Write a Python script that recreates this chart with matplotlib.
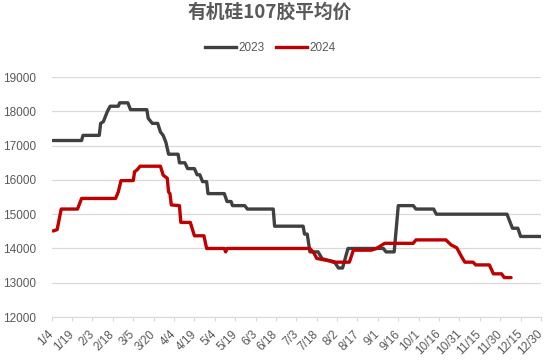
import matplotlib
matplotlib.use("Agg")
import matplotlib.pyplot as plt
from matplotlib.lines import Line2D

# ---------------------------------------------------------------------------
# Data (x = days counted from 1/4, price in yuan/ton)
# ---------------------------------------------------------------------------
days_2023 = [1, 22, 23, 35, 36, 38, 41, 43, 49, 50, 56, 58, 70, 71, 74, 78,
             80, 82, 84, 86, 93, 94, 98, 100, 105, 107, 109, 111, 114, 115,
             127, 129, 132, 133, 142, 144, 163, 164, 185, 186, 188, 190, 196,
             199, 208, 211, 214, 218, 244, 246, 252, 255, 266, 268, 281, 283,
             335, 339, 343, 345, 360]
price_2023 = [17150, 17150, 17300, 17300, 17650, 17700, 18000, 18150, 18150,
              18250, 18250, 18050, 18050, 17800, 17650, 17650, 17400, 17300,
              17100, 16750, 16750, 16500, 16500, 16330, 16330, 16150, 16150,
              15950, 15950, 15600, 15600, 15370, 15370, 15250, 15250, 15150,
              15150, 14650, 14650, 14420, 14420, 13900, 13900, 13700, 13610,
              13430, 13430, 14000, 14000, 13900, 13900, 15250, 15250, 15150,
              15150, 15000, 15000, 14590, 14590, 14350, 14350]

days_2024 = [1, 4, 7, 19, 22, 47, 49, 51, 60, 61, 63, 65, 80, 82, 85, 86,
             87, 88, 94, 95, 102, 105, 112, 114, 127, 128, 129, 190, 193,
             195, 205, 207, 219, 222, 235, 239, 245, 266, 268, 290, 294, 298,
             302, 304, 310, 312, 322, 325, 331, 333, 338]
price_2024 = [14510, 14550, 15150, 15150, 15460, 15460, 15650, 15980, 15980,
              16240, 16300, 16400, 16400, 16140, 16050, 15650, 15600, 15270,
              15250, 14760, 14760, 14370, 14370, 14000, 14000, 13900, 14000,
              14000, 13860, 13710, 13630, 13600, 13600, 13950, 13950, 14000,
              14150, 14150, 14250, 14250, 14100, 14020, 13730, 13600, 13600,
              13520, 13520, 13260, 13260, 13150, 13150]

tick_labels = ["1/4", "1/19", "2/3", "2/18", "3/5", "3/20", "4/4", "4/19",
               "5/4", "5/19", "6/3", "6/18", "7/3", "7/18", "8/2", "8/17",
               "9/1", "9/16", "10/1", "10/16", "10/31", "11/15", "11/30",
               "12/15", "12/30"]

COLOR_2023 = "#404040"
COLOR_2024 = "#C00000"
TEXT = "#595959"

plt.rcParams["font.family"] = ["Liberation Sans", "DejaVu Sans"]

fig = plt.figure(figsize=(5.5, 3.62), dpi=100)
ax = fig.add_axes([0.094, 0.1243, 0.8896, 0.6627])

ax.plot(days_2023, price_2023, color=COLOR_2023, lw=2.4,
        solid_joinstyle="round", solid_capstyle="round")
ax.plot(days_2024, price_2024, color=COLOR_2024, lw=2.4,
        solid_joinstyle="round", solid_capstyle="round")

ax.set_xlim(0, 360)
ax.set_ylim(12000, 19000)
ax.set_yticks(range(12000, 19001, 1000))
ax.set_xticks(range(0, 361, 15))
ax.set_xticklabels(tick_labels, rotation=45, ha="right", va="center",
                   rotation_mode="anchor")

ax.grid(axis="y", color="#D9D9D9", lw=0.9)
ax.set_axisbelow(True)
for side in ["top", "right", "left"]:
    ax.spines[side].set_visible(False)
ax.spines["bottom"].set_color("#D9D9D9")
ax.tick_params(axis="y", length=0, pad=11, labelsize=8.5, labelcolor=TEXT)
ax.tick_params(axis="x", length=3, color="#D9D9D9", pad=8, labelsize=8.5,
               labelcolor=TEXT)

fig.text(0.491, 0.965, "有机硅107胶平均价", ha="center", va="center",
         fontsize=13.5, fontweight="bold", color=TEXT,
         family=["Noto Sans CJK SC", "DejaVu Sans"])

handles = [Line2D([0], [0], color=COLOR_2023, lw=2.4),
           Line2D([0], [0], color=COLOR_2024, lw=2.4)]
fig.legend(handles, ["2023", "2024"], loc="center", ncol=2,
           bbox_to_anchor=(0.491, 0.867), frameon=False, fontsize=8.5,
           labelcolor=TEXT, handlelength=2.6, handletextpad=0.2,
           columnspacing=1.0)

fig.savefig("out.png", dpi=100)
